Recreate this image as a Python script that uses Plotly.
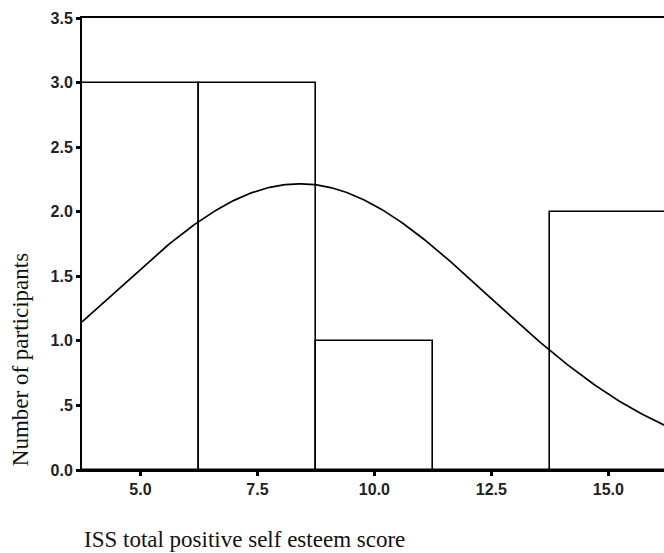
import numpy as np
import plotly.graph_objects as go

# Histogram of ISS total positive self esteem scores (bin width 2.5)
bin_centers = [5.0, 7.5, 10.0, 12.5, 15.0]
counts = [3, 3, 1, 0, 2]
bin_width = 2.5

# Normal curve parameters for the fitted overlay
score_mean = 8.4
score_sd = 4.05
n_participants = sum(counts)

y_tick_vals = [0.0, 0.5, 1.0, 1.5, 2.0, 2.5, 3.0, 3.5]
y_tick_text = ["0.0", ".5", "1.0", "1.5", "2.0", "2.5", "3.0", "3.5"]
x_tick_vals = [5.0, 7.5, 10.0, 12.5, 15.0]
x_tick_text = ["5.0", "7.5", "10.0", "12.5", "15.0"]

x_lo = bin_centers[0] - bin_width / 2
x_hi = 16.19

xs = np.linspace(x_lo, bin_centers[-1] + bin_width / 2, 300)
curve = (n_participants * bin_width / (score_sd * np.sqrt(2 * np.pi))
         * np.exp(-((xs - score_mean) ** 2) / (2 * score_sd ** 2)))

fig = go.Figure()
fig.add_trace(go.Bar(
    x=bin_centers, y=counts, width=bin_width,
    marker=dict(color="white", line=dict(color="black", width=1.6)),
    showlegend=False, hoverinfo="skip",
))
fig.add_trace(go.Scatter(
    x=xs, y=curve, mode="lines",
    line=dict(color="black", width=1.7),
    showlegend=False, hoverinfo="skip",
))

tick_font = dict(family="Liberation Sans, Arial", size=16, color="#222", weight="bold")
title_font = dict(family="Liberation Serif, Times New Roman", size=23, color="#111")

fig.update_layout(
    width=664, height=553,
    margin=dict(l=82, r=0, t=18, b=83),
    paper_bgcolor="white", plot_bgcolor="white",
    bargap=0,
    xaxis=dict(
        range=[x_lo, x_hi], tickvals=x_tick_vals, ticktext=x_tick_text,
        showgrid=False, zeroline=False, showline=True, linecolor="black",
        linewidth=2, mirror=True, ticks="outside", ticklen=4, tickwidth=3,
        tickcolor="black", tickfont=tick_font, fixedrange=True,
    ),
    yaxis=dict(
        range=[0, 3.5], tickvals=y_tick_vals, ticktext=y_tick_text,
        showgrid=False, zeroline=False, showline=True, linecolor="black",
        linewidth=2, ticks="outside", ticklen=4, tickwidth=3,
        tickcolor="black", tickfont=tick_font, fixedrange=True,
    ),
    annotations=[
        dict(text="ISS total positive self esteem score", xref="paper", yref="paper",
             x=0, y=0, xanchor="left", yanchor="middle", yshift=-69,
             showarrow=False, font=title_font),
        dict(text="Number of participants", xref="paper", yref="paper",
             x=0, y=0.243, xanchor="center", yanchor="middle", xshift=-62,
             textangle=-90, showarrow=False, font=title_font),
    ],
)

fig.write_html("out.html")
